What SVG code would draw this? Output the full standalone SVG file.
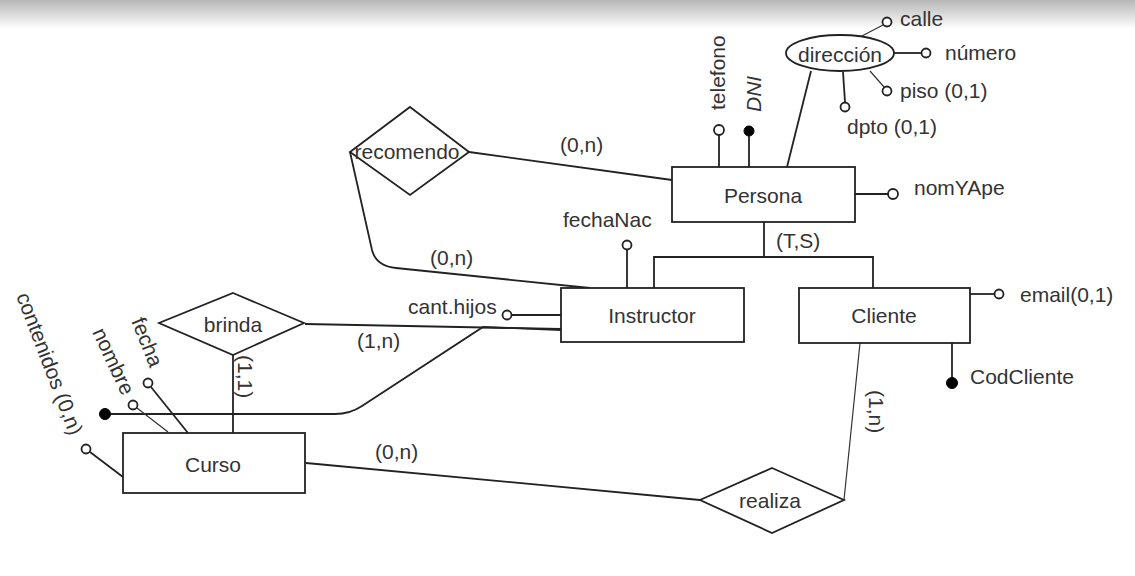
<svg xmlns="http://www.w3.org/2000/svg" width="1135" height="576" viewBox="0 0 1135 576">
<defs>
<linearGradient id="topbar" x1="0" y1="0" x2="0" y2="1">
<stop offset="0" stop-color="#b6b6b6"/>
<stop offset="1" stop-color="#fafafa"/>
</linearGradient>
</defs>
<style>
text{font-family:"Liberation Sans",Arial,sans-serif;font-size:21px;fill:#333}
.c{text-anchor:middle}
.box{fill:#fff;stroke:#222;stroke-width:1.8}
.ln{fill:none;stroke:#222;stroke-width:1.8}
.thin{fill:none;stroke:#333;stroke-width:1.2}
.oc{fill:#fff;stroke:#222;stroke-width:1.8}
.fc{fill:#000;stroke:#000;stroke-width:1}
</style>
<rect x="0" y="0" width="1135" height="576" fill="#fff"/>
<rect x="0" y="0" width="1135" height="27" fill="url(#topbar)"/>

<g id="connectors">
<line class="ln" x1="469" y1="152" x2="672" y2="180"/>
<path class="ln" d="M350 152 L372 250 Q376 266 396 268 L590 288"/>
<line class="ln" x1="305" y1="324" x2="561" y2="329"/>
<path class="ln" d="M110 414 L335 414 Q350 414 362 406 L483 327 L561 330"/>
<line class="ln" x1="233" y1="355" x2="233" y2="433"/>
<line class="ln" x1="306" y1="463" x2="700" y2="500"/>
<line class="thin" x1="860" y1="343" x2="844" y2="500"/>
<line class="ln" x1="764" y1="222" x2="764" y2="258"/>
<polyline class="ln" points="654,288 654,257 873,257 873,288"/>
</g>

<g id="persona">
<rect class="box" x="672" y="167" width="183" height="55"/>
<text class="c" x="763" y="203">Persona</text>
</g>
<g id="persona-attrs">
<line class="ln" x1="719" y1="135" x2="719" y2="167"/>
<circle class="oc" cx="719" cy="130" r="5"/>
<text transform="translate(725,110) rotate(-90)">telefono</text>
<line class="ln" x1="749" y1="135" x2="749" y2="167"/>
<circle class="fc" cx="749" cy="131" r="5"/>
<text transform="translate(761,112) rotate(-90)" font-style="italic">DNI</text>
<line class="ln" x1="811" y1="71" x2="787" y2="167"/>
<line class="ln" x1="855" y1="194" x2="888" y2="194" stroke-width="3"/>
<circle class="oc" cx="893" cy="194" r="5"/>
<text x="914" y="195">nomYApe</text>
</g>
<g id="direccion">
<line class="thin" x1="860" y1="37" x2="883" y2="25"/>
<circle class="oc" cx="887" cy="22" r="4.5"/>
<text x="900" y="26">calle</text>
<line class="ln" x1="894" y1="53" x2="921" y2="53" stroke-width="2.4"/>
<circle class="oc" cx="926" cy="53" r="4.5"/>
<text x="945" y="60">número</text>
<line class="thin" x1="870" y1="71" x2="884" y2="87"/>
<circle class="oc" cx="887" cy="91" r="4.5"/>
<text x="900" y="98">piso (0,1)</text>
<line class="ln" x1="843" y1="72" x2="845" y2="102"/>
<circle class="oc" cx="845" cy="107" r="4.5"/>
<text x="847" y="134">dpto (0,1)</text>
<ellipse class="box" cx="840" cy="53" rx="54" ry="18"/>
<text class="c" x="840" y="62">dirección</text>
</g>
<text x="776" y="248">(T,S)</text>

<g id="instructor">
<rect class="box" x="561" y="288" width="183" height="54"/>
<text class="c" x="652" y="323">Instructor</text>
<line class="ln" x1="627" y1="250" x2="627" y2="288"/>
<circle class="oc" cx="627" cy="245" r="4.5"/>
<text x="563" y="227">fechaNac</text>
<line class="ln" x1="512" y1="315" x2="561" y2="315"/>
<circle class="oc" cx="507" cy="315" r="4.5"/>
<text x="408" y="314">cant.hijos</text>
</g>

<g id="cliente">
<rect class="box" x="799" y="288" width="171" height="55"/>
<text class="c" x="884" y="323">Cliente</text>
<line class="ln" x1="970" y1="294" x2="995" y2="294"/>
<circle class="oc" cx="999" cy="294" r="4.5"/>
<text x="1020" y="302">email(0,1)</text>
<line class="ln" x1="952" y1="343" x2="952" y2="378"/>
<circle class="fc" cx="952" cy="383" r="5.5"/>
<text x="970" y="384">CodCliente</text>
</g>

<g id="recomendo">
<polygon class="box" points="410,107 469,152 410,195 350,152"/>
<text class="c" x="407" y="159">recomendo</text>
</g>
<text x="560" y="152">(0,n)</text>
<text x="430" y="265">(0,n)</text>

<g id="brinda">
<polygon class="box" points="233,293 304,323 233,355 159,323"/>
<text class="c" x="233" y="332">brinda</text>
</g>
<text x="357" y="348">(1,n)</text>
<text transform="translate(238,355) rotate(90)">(1,1)</text>

<g id="curso">
<rect class="box" x="123" y="433" width="182" height="60"/>
<text class="c" x="213" y="472">Curso</text>
<line class="ln" x1="151" y1="387" x2="188" y2="433"/>
<circle class="oc" cx="148" cy="383" r="4.5"/>
<text transform="translate(131,321) rotate(68)">fecha</text>
<line class="thin" x1="137" y1="408" x2="168" y2="432" stroke="#666"/>
<circle class="oc" cx="133" cy="405" r="4.5"/>
<text transform="translate(92,332) rotate(65)">nombre</text>
<line class="ln" x1="90" y1="452" x2="123" y2="477"/>
<circle class="oc" cx="86" cy="449" r="4.5"/>
<text transform="translate(16,296) rotate(69)">contenidos (0,n)</text>
<circle class="fc" cx="105" cy="414" r="5.5"/>
</g>
<text x="375" y="459">(0,n)</text>

<g id="realiza">
<polygon class="box" points="772,468 844,500 772,533 700,500"/>
<text class="c" x="770" y="508">realiza</text>
</g>
<text transform="translate(869,390) rotate(90)">(1,n)</text>
</svg>
